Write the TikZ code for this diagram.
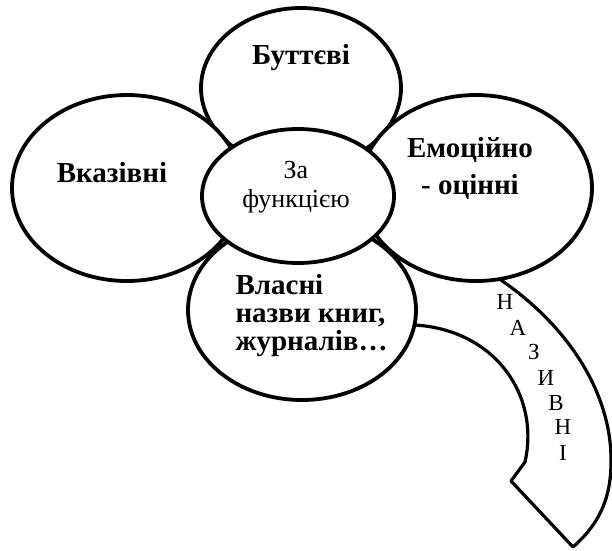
\documentclass[tikz,border=0pt]{standalone}
\usepackage{fontspec}
\setmainfont{Liberation Serif}
\usepackage{tikz}
\usetikzlibrary{calc}
\definecolor{ffffff}{rgb}{1.,1.,1.}
\definecolor{qqqqqq}{rgb}{0.,0.,0.}
\tikzstyle{every node}=[font=\fontsize{26}{29}\selectfont,color=qqqqqq]
\tikzstyle{petal}=[line width=3.8pt,color=qqqqqq,fill=ffffff]
\tikzstyle{boldlabel}=[font=\fontsize{29}{28}\selectfont\bfseries]
\tikzstyle{letter}=[font=\fontsize{23}{24}\selectfont,inner sep=0pt]

\begin{document}
\begin{tikzpicture}[line cap=round,line join=round,x=1.0pt,y=-1.0pt]
    \useasboundingbox (0,0) rectangle (612,550);
    % petals
    \draw [petal] (301,88) ellipse (100pt and 80pt);
    \draw [petal] (127,188) ellipse (115pt and 93pt);
    % stem
    \draw [line width=3.2pt,color=qqqqqq] (490,268) -- (498,278) .. controls (575,330) and (612,400) .. (611,462) .. controls (611,500) and (598,525) .. (573,547) -- (511,481) -- (525,462) .. controls (540,395) and (495,330) .. (415,325) -- (400,324);
    \draw [petal] (476,188) ellipse (116pt and 93pt);
    \draw [petal] (302,310) ellipse (114pt and 90pt);
    \draw [petal] (298,196) ellipse (96pt and 67pt);
    % labels
    \node [boldlabel] (buttievi) at (301,58) {Буттєві};
    \node [boldlabel] (vkazivni) at (112,173) {Вказівні};
    \node [boldlabel,align=center] (emotsiini) at (470,168) {Емоційно\\[9pt]- оцінні};
    \node [boldlabel,align=left,anchor=west] (vlasni) at (232,316) {Власні\\назви книг,\\журналів…};
    \node [align=center] (zafunktsiieiu) at (296,187) {За\\функцією};
    % letters on the stem
    \node [letter] (n1) at (505,302) {Н};
    \node [letter] (a1) at (518,328) {А};
    \node [letter] (z1) at (534,352) {З};
    \node [letter] (y1) at (546,378) {И};
    \node [letter] (v1) at (556,403) {В};
    \node [letter] (n2) at (563,427) {Н};
    \node [letter] (i1) at (563,453) {І};
\end{tikzpicture}
\end{document}
